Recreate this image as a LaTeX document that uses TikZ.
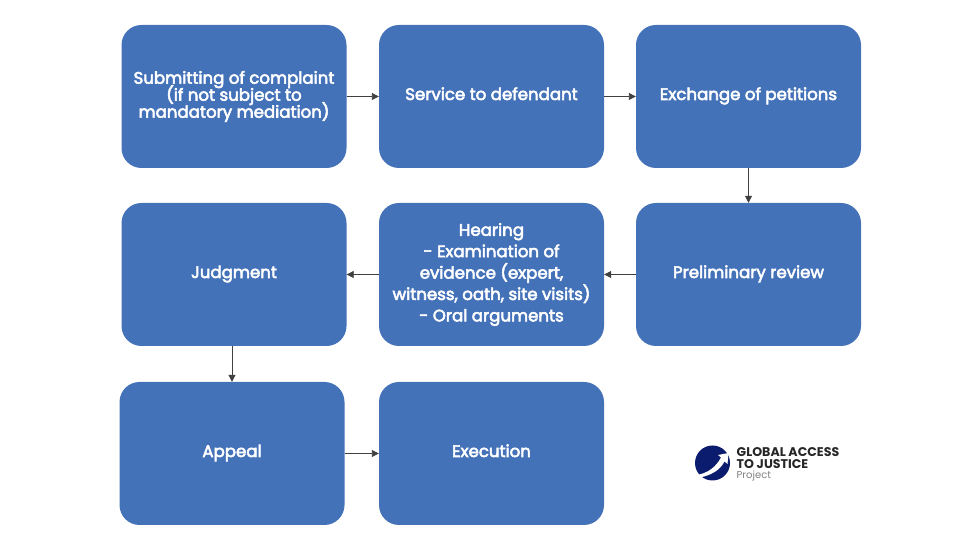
\documentclass[tikz,border=0pt]{standalone}
\usepackage{fontspec}
\setmainfont{Poppins}
\newfontfamily\stagefont[FakeBold=3.2]{Poppins}
\usepackage{xcolor}
\usetikzlibrary{arrows.meta,positioning}
\definecolor{boxblue}{HTML}{4472B9}
\definecolor{linkgray}{HTML}{404040}
\definecolor{logonavy}{HTML}{0B1C6E}
% the tall parentheses must not push the lines apart
\lineskiplimit=-20pt
\normallineskiplimit=-20pt
\begin{document}
\begin{tikzpicture}[x=1pt,y=1pt,>={Triangle[length=7pt,width=7pt]},
  stage/.style={fill=boxblue,rounded corners=20pt,minimum width=225pt,minimum height=143pt,inner sep=0pt,
    align=center,text=white,font=\stagefont\fontsize{16.6}{21.4}\selectfont},
  tight/.style={stage,font=\stagefont\fontsize{16.6}{17}\selectfont},
  single/.style={stage,text height=12pt,text depth=5pt},
  link/.style={->,draw=linkgray,line width=0.9pt},
  logotext/.style={inner sep=0pt,anchor=west,text=black!85,font=\fontsize{12.6}{12}\selectfont\bfseries}]
\useasboundingbox (0,0) rectangle (980,551);
\node[tight] (complaint) at (234,454.5) {Submitting of complaint\\(if not subject to\\mandatory mediation)};
\node[single] (service) at (491.5,454.5) {Service to defendant};
\node[single] (petitions) at (748.5,454.5) {Exchange of petitions};
\node[single] (review) at (748.5,276.5) {Preliminary review};
\node[stage] (hearing) at (491.5,276.5) {Hearing\\- Examination of\\evidence (expert,\\witness, oath, site visits)\\- Oral arguments};
\node[single] (judgment) at (234,276.5) {Judgment};
\node[single] (appeal) at (232,97.5) {Appeal};
\node[single] (execution) at (491.5,97.5) {Execution};
\draw[link] (complaint) -- (service);
\draw[link] (service) -- (petitions);
\draw[link] (petitions) -- (review);
\draw[link] (review) -- (hearing);
\draw[link] (hearing) -- (judgment);
\draw[link] (judgment.south -| appeal.north) -- (appeal.north);
\draw[link] (appeal) -- (execution);
% logo, bottom right
\node[circle,fill=logonavy,minimum size=35pt,inner sep=0pt] (globe) at (712.5,88) {};
\fill[white] (700,73.5) .. controls (712,76) and (720,81) .. (724.5,89.5) -- (727.5,87) -- (728.5,98) -- (718,96) -- (721,93.5) .. controls (716,84) and (708,78) .. (697,76) -- cycle;
\node[logotext] (logoa) at (736.5,98.5) {GLOBAL ACCESS};
\node[logotext] (logob) at (736.5,86.5) {TO JUSTICE};
\node[logotext,text=black!50,font=\fontsize{10}{10}\selectfont] (logoc) at (736.5,75) {Project};
\end{tikzpicture}
\end{document}
